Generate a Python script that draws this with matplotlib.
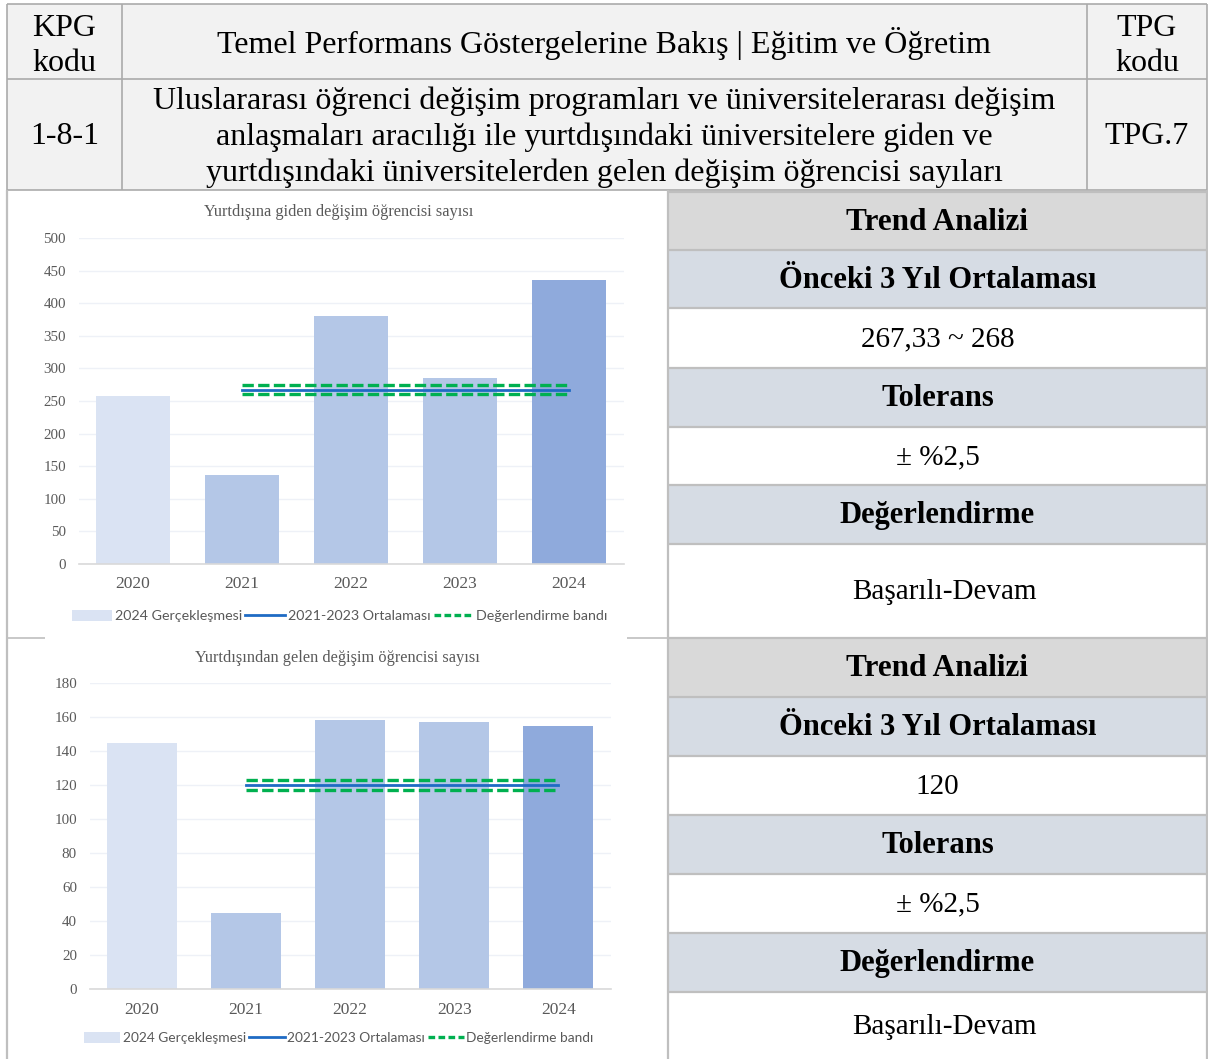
import matplotlib
matplotlib.use("Agg")
import matplotlib.pyplot as plt
from matplotlib.patches import Rectangle, Patch
from matplotlib.lines import Line2D
import numpy as np

# ── Datos ────────────────────────────────────────────────────────────
yillar = ["2020", "2021", "2022", "2023", "2024"]
giden = [257, 136, 380, 286, 436]
gelen = [145, 45, 158, 157, 155]
tolerans = 0.025

baslik_giden = "Yurtdışına giden değişim öğrencisi sayısı"
baslik_gelen = "Yurtdışından gelen değişim öğrencisi sayısı"
legend_etiketleri = ["2024 Gerçekleşmesi", "2021-2023 Ortalaması", "Değerlendirme bandı"]

ust_baslik = "Temel Performans Göstergelerine Bakış | Eğitim ve Öğretim"
aciklama = ("Uluslararası öğrenci değişim programları ve üniversitelerarası değişim\n"
            "anlaşmaları aracılığı ile yurtdışındaki üniversitelere giden ve\n"
            "yurtdışındaki üniversitelerden gelen değişim öğrencisi sayıları")
kpg_kodu = "1-8-1"
tpg_kodu = "TPG.7"

panel_giden = ["Trend Analizi", "Önceki 3 Yıl Ortalaması", "267,33 ~ 268",
               "Tolerans", "± %2,5", "Değerlendirme", "Başarılı-Devam"]
panel_gelen = ["Trend Analizi", "Önceki 3 Yıl Ortalaması", "120",
               "Tolerans", "± %2,5", "Değerlendirme", "Başarılı-Devam"]

# ── Estilo ───────────────────────────────────────────────────────────
W, H = 1208, 1059
SERIF = "Liberation Serif"
SANS = "Lato"
BORDE = "#ABABAB"
BAR_COLS = ["#DAE3F3", "#B4C7E7", "#B4C7E7", "#B4C7E7", "#8FAADC"]
AZUL = "#1F6BC4"
VERDE = "#00B050"
GRIS_TXT = "#595959"
ROW_BG = ["#D9D9D9", "#D6DCE4", "white", "#D6DCE4", "white", "#D6DCE4", "white"]

fig = plt.figure(figsize=(W / 100, H / 100), dpi=100)
fig.patch.set_facecolor("white")

# fondo en coordenadas de píxel
bg = fig.add_axes([0, 0, 1, 1])
bg.set_xlim(0, W)
bg.set_ylim(H, 0)
bg.axis("off")


def caja(x0, y0, x1, y1, color):
    bg.add_patch(Rectangle((x0, y0), x1 - x0, y1 - y0, facecolor=color,
                           edgecolor="none", zorder=0))


def linea(x0, y0, x1, y1, lw=1.2, color=BORDE):
    bg.plot([x0, x1], [y0, y1], color=color, lw=lw, zorder=2,
            solid_capstyle="butt")


# ── Cabecera ─────────────────────────────────────────────────────────
caja(7, 4, 1207, 190, "#F2F2F2")
for y in (4, 79, 190):
    linea(7, y, 1207, y)
for x in (7, 122, 1087, 1207):
    linea(x, 4, x, 190)

FS_CAB = 23
bg.text(64.5, 46, "KPG\nkodu", ha="center", va="center", fontsize=FS_CAB,
        family=SERIF, linespacing=1.28)
bg.text(604, 44, ust_baslik, ha="center", va="center", fontsize=FS_CAB, family=SERIF)
bg.text(1147, 46, "TPG\nkodu", ha="center", va="center", fontsize=FS_CAB,
        family=SERIF, linespacing=1.28)
bg.text(64.5, 136, kpg_kodu, ha="center", va="center", fontsize=FS_CAB, family=SERIF)
bg.text(604, 137, aciklama, ha="center", va="center", fontsize=FS_CAB,
        family=SERIF, linespacing=1.28)
bg.text(1147, 136, tpg_kodu, ha="center", va="center", fontsize=FS_CAB, family=SERIF)

# ── Panel derecho ────────────────────────────────────────────────────
filas_sup = [192, 250, 308, 368, 427, 485, 544, 638]
filas_inf = [638, 697, 756, 815, 874, 933, 992, 1059]
for filas, textos in ((filas_sup, panel_giden), (filas_inf, panel_gelen)):
    for i, txt in enumerate(textos):
        y0, y1 = filas[i], filas[i + 1]
        caja(668, y0, 1207, y1, ROW_BG[i])
        negrita = ROW_BG[i] != "white"
        fs = 22.5 if i == 0 else (22 if negrita else 21)
        xc = 944 if i == len(textos) - 1 else 937.5
        bg.text(xc, (y0 + y1) / 2 + 1, txt, ha="center", va="center",
                fontsize=fs, fontweight="bold" if negrita else "normal",
                family=SERIF)
        linea(668, y0, 1207, y0, lw=1.6, color="#BFBFBF")
linea(668, 190, 668, 1059, lw=1.6, color="#BFBFBF")
linea(1207, 190, 1207, 1059, lw=1.6, color="#BFBFBF")
linea(7, 190, 7, 1059, lw=1.6, color="#BFBFBF")
linea(7, 638, 45, 638, lw=1.2, color="#BFBFBF")
linea(627, 638, 668, 638, lw=1.2, color="#BFBFBF")


# ── Gráficos ─────────────────────────────────────────────────────────
def grafico(valores, ymax, paso, px_izq, px_der, px_top, px_bot,
            titulo, y_titulo, x_titulo, x_leyenda, y_leyenda,
            fs_leyenda, largo_manija):
    ax = fig.add_axes([px_izq / W, 1 - px_bot / H,
                       (px_der - px_izq) / W, (px_bot - px_top) / H])
    x = np.arange(len(yillar))
    ax.bar(x, valores, width=0.67, color=BAR_COLS, zorder=2)
    media = np.mean(valores[1:4])
    ax.plot([1, 4], [media, media], color=AZUL, lw=2.0, zorder=4)
    for f in (1 + tolerans, 1 - tolerans):
        ax.plot([1, 4], [media * f, media * f], color=VERDE, lw=2.4,
                dashes=(3.4, 1.3), zorder=5)
    ax.set_xlim(-0.5, len(yillar) - 0.5)
    ax.set_ylim(0, ymax)
    ax.set_yticks(np.arange(0, ymax + 1, paso))
    ax.set_xticks(x)
    ax.set_xticklabels(yillar)
    ax.grid(axis="y", color="#EEF1F7", lw=1.0, zorder=0)
    for s in ("top", "right", "left"):
        ax.spines[s].set_visible(False)
    ax.spines["bottom"].set_color("#D9D9D9")
    ax.spines["bottom"].set_linewidth(1.2)
    ax.tick_params(axis="both", length=0, colors=GRIS_TXT)
    ax.tick_params(axis="y", pad=9, labelsize=10.8)
    ax.tick_params(axis="x", pad=9, labelsize=12.5)
    for lab in ax.get_xticklabels() + ax.get_yticklabels():
        lab.set_family(SERIF)
    ax.set_facecolor("none")

    bg.text(x_titulo, y_titulo, titulo, ha="center", va="center",
            fontsize=11.8, family=SERIF, color=GRIS_TXT)

    manijas = [
        Patch(facecolor=BAR_COLS[0], edgecolor="none"),
        Line2D([], [], color=AZUL, lw=2.0),
        Line2D([], [], color=VERDE, lw=2.4, dashes=(2.0, 1.0)),
    ]
    ax.legend(manijas, legend_etiketleri, loc="center",
              bbox_to_anchor=(x_leyenda / W, 1 - y_leyenda / H),
              bbox_transform=fig.transFigure, ncol=3, frameon=False,
              prop={"family": SANS, "size": fs_leyenda}, labelcolor=GRIS_TXT,
              handlelength=largo_manija, handleheight=0.9, handletextpad=0.2,
              columnspacing=0.2)
    return ax


grafico(giden, 500, 50, 78.5, 623.5, 238, 564,
        baslik_giden, 212, 339, 340, 616, 10.3, 2.8)
grafico(gelen, 180, 20, 89.5, 610.5, 683, 989,
        baslik_gelen, 658, 337, 339, 1038, 9.9, 2.6)

fig.savefig("out.png", dpi=100)
plt.close(fig)
